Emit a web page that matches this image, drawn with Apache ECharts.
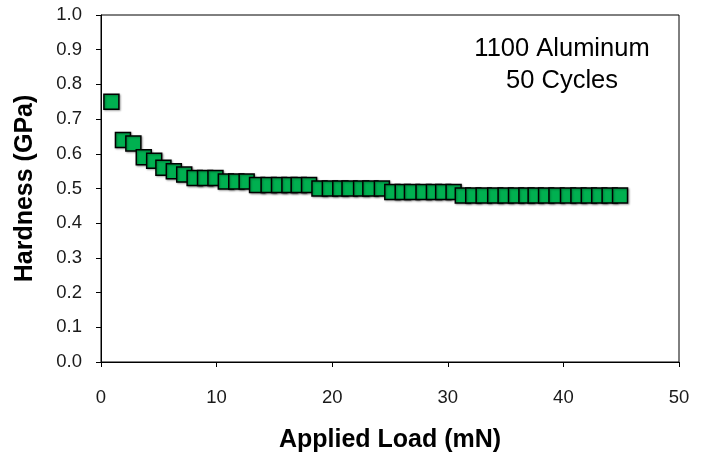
<!DOCTYPE html>
<html lang="en">
<head>
    <meta http-equiv="Content-Type" content="text/html; charset=utf-8"/>
    <title>Hardness vs Applied Load</title>
    <script src="https://cdn.jsdelivr.net/npm/echarts@6/dist/echarts.min.js"></script>
    <style type="text/css">
        html, body {
            height: 100%;
            margin: 0;
            background: #fff;
        }
        #main_1 {
            width: 706px;
            height: 454px;
        }
    </style>
</head>
<body>
<div id="main_1"></div>
<script>
    // applied load (mN)
    var load = [0.9, 1.9, 2.8, 3.7, 4.6, 5.4, 6.3, 7.2, 8.1, 9.0,
        9.9, 10.8, 11.7, 12.6, 13.5, 14.5, 15.4, 16.3, 17.1, 18.0,
        18.9, 19.8, 20.7, 21.5, 22.5, 23.3, 24.3, 25.2, 26.1, 26.9,
        27.9, 28.8, 29.6, 30.5, 31.3, 32.2, 33.1, 34.1, 35.0, 35.9,
        36.8, 37.6, 38.5, 39.4, 40.4, 41.3, 42.2, 43.1, 44.0, 44.9];

    // hardness (GPa)
    var hardness = [0.75, 0.64, 0.63, 0.59, 0.58, 0.56, 0.55, 0.54, 0.53, 0.53,
        0.53, 0.52, 0.52, 0.52, 0.51, 0.51, 0.51, 0.51, 0.51, 0.51,
        0.50, 0.50, 0.50, 0.50, 0.50, 0.50, 0.50, 0.49, 0.49, 0.49,
        0.49, 0.49, 0.49, 0.49, 0.48, 0.48, 0.48, 0.48, 0.48, 0.48,
        0.48, 0.48, 0.48, 0.48, 0.48, 0.48, 0.48, 0.48, 0.48, 0.48];

    var noteLines = ['1100 Aluminum', '50 Cycles'];

    var pts = [];
    for (var i = 0; i < load.length; i++) {
        pts.push([load[i], hardness[i]]);
    }

    var myChart = echarts.init(document.getElementById('main_1'));

    var tickFont = {
        fontFamily: 'Liberation Sans',
        fontSize: 18.5,
        color: '#1a1a1a'
    };
    var titleFont = {
        fontFamily: 'Liberation Sans',
        fontWeight: 'bold',
        fontSize: 25,
        color: '#000'
    };

    var option = {
        animation: false,
        backgroundColor: '#fff',
        grid: {
            left: 101,
            right: 27,
            top: 15,
            bottom: 92,
            outerBoundsMode: 'none',
            containLabel: false,
            show: true,
            borderColor: '#000',
            borderWidth: 1
        },
        xAxis: {
            type: 'value',
            min: 0,
            max: 50,
            interval: 10,
            name: 'Applied Load (mN)',
            nameLocation: 'middle',
            nameGap: 66,
            nameTextStyle: titleFont,
            axisLine: {show: true, lineStyle: {color: '#000', width: 1}},
            axisTick: {show: true, inside: false, length: 5, lineStyle: {color: '#000'}},
            axisLabel: Object.assign({margin: 26}, tickFont),
            splitLine: {show: false}
        },
        yAxis: {
            type: 'value',
            min: 0,
            max: 1,
            interval: 0.1,
            name: 'Hardness (GPa)',
            nameLocation: 'middle',
            nameGap: 63,
            nameTextStyle: titleFont,
            axisLine: {show: true, lineStyle: {color: '#000', width: 1}},
            axisTick: {show: true, inside: false, length: 5, lineStyle: {color: '#000'}},
            axisLabel: Object.assign({
                margin: 19,
                formatter: function (v) { return v.toFixed(1); }
            }, tickFont),
            splitLine: {show: false}
        },
        graphic: [{
            type: 'text',
            x: 562,
            y: 33,
            style: {
                text: noteLines.join('\n'),
                align: 'center',
                verticalAlign: 'top',
                fontFamily: 'Liberation Sans',
                fontSize: 25.5,
                lineHeight: 32,
                fill: '#000'
            }
        }],
        series: [{
            type: 'scatter',
            data: pts,
            symbol: 'rect',
            symbolSize: 15,
            itemStyle: {
                color: '#00B050',
                opacity: 1,
                borderColor: '#000',
                borderWidth: 1.5,
                shadowColor: 'rgba(0,0,0,0.3)',
                shadowBlur: 2,
                shadowOffsetX: 1,
                shadowOffsetY: 1
            }
        }]
    };

    myChart.setOption(option);
</script>
</body>
</html>
